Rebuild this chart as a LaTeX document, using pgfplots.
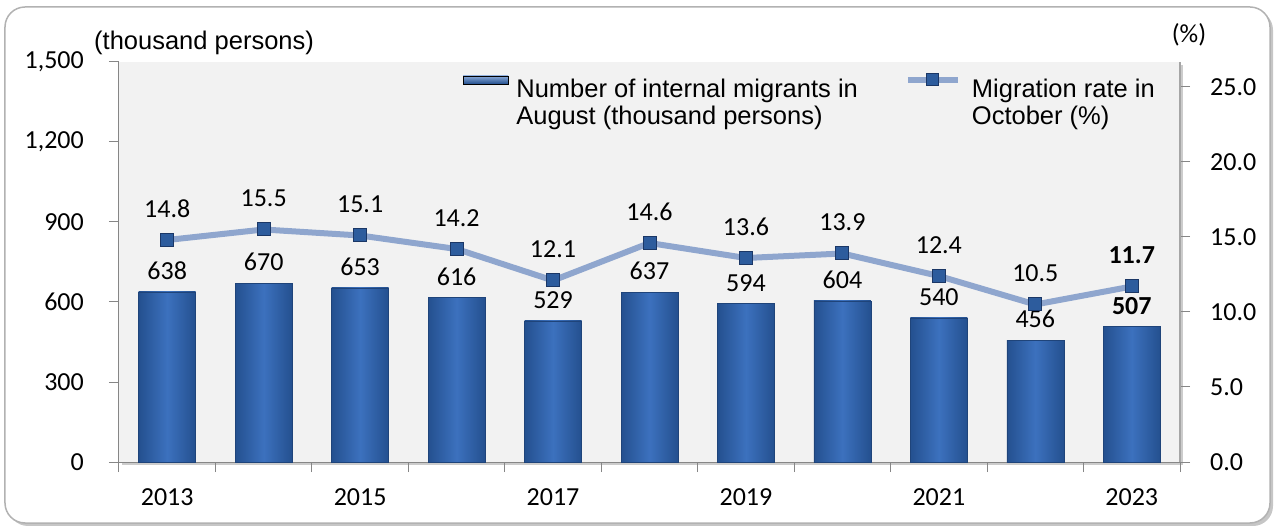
\documentclass[border=0pt]{standalone}
\usepackage{fontspec}
\setmainfont{Carlito}
\newfontfamily\arial{Liberation Sans}
\usepackage{pgfplots}
\pgfplotsset{compat=1.18}

\definecolor{bggray}{HTML}{F2F2F2}
\definecolor{axisgray}{HTML}{868686}
\definecolor{barside}{HTML}{24508F}
\definecolor{barmid}{HTML}{3C71BE}
\definecolor{ratecol}{HTML}{8FA6CE}
\definecolor{markfill}{HTML}{2D5C9D}
\definecolor{markdraw}{HTML}{1B3766}

\newcommand\lab{\fontsize{26bp}{30bp}\selectfont}
\newcommand\leg{\arial\fontsize{25.5bp}{27bp}\selectfont}

\pgfplotsset{
  migbar/.style={draw=barside!85!black, line width=0.6bp,
    left color=barside, right color=barside, middle color=barmid},
}

\begin{document}
\begin{tikzpicture}
% outer frame
\fill[gray!45, rounded corners=20bp] (-111bp,-64bp) rectangle (1154bp,452bp);
\filldraw[fill=white, draw=gray!60, line width=1.5bp, rounded corners=20bp]
  (-114bp,-61bp) rectangle (1151bp,455bp);
% shadow of plot area
\fill[gray!40] (3bp,-3bp) rectangle (1064bp,397bp);

\begin{axis}[
  at={(0,0)}, anchor=south west,
  scale only axis, width=1061bp, height=400bp,
  xmin=-0.5, xmax=10.5, ymin=0, ymax=1500,
  axis background/.style={fill=bggray},
  axis x line*=bottom, axis y line*=left,
  axis line style={draw=axisgray, line width=1bp},
  tick align=outside, major tick length=10bp,
  tick style={draw=axisgray, line width=1bp},
  ytick={0,300,...,1500},
  xtick={-0.5,0.5,...,10.5}, xticklabels={},
  extra x ticks={0,2,4,6,8,10},
  extra x tick labels={2013,2015,2017,2019,2021,2023},
  extra x tick style={major tick length=0pt,
    xticklabel style={yshift=-26bp}},
  tick label style={font=\lab, inner sep=0pt},
  yticklabel style={xshift=-25bp},
  /pgf/number format/assume math mode=true,
  ybar, bar width=57bp, bar shift=0pt,
  nodes near coords, point meta=explicit symbolic,
  nodes near coords style={font=\lab, anchor=south, inner sep=0pt, yshift=12bp, text=black},
]
% one plot per bar, so that each bar gets its own shading
\addplot[migbar] coordinates {(0,638) [638]};
\addplot[migbar] coordinates {(1,670) [670]};
\addplot[migbar] coordinates {(2,653) [653]};
\addplot[migbar] coordinates {(3,616) [616]};
\addplot[migbar] coordinates {(4,529) [529]};
\addplot[migbar] coordinates {(5,637) [637]};
\addplot[migbar] coordinates {(6,594) [594]};
\addplot[migbar] coordinates {(7,604) [604]};
\addplot[migbar] coordinates {(8,540) [540]};
\addplot[migbar] coordinates {(9,456) [456]};
\addplot[migbar] coordinates {(10,507) [\textbf{507}]};
\end{axis}

\begin{axis}[
  at={(0,0)}, anchor=south west,
  scale only axis, width=1061bp, height=400bp,
  xmin=-0.5, xmax=10.5, ymin=0, ymax=26.6667,
  axis y line*=right, axis x line=none,
  axis line style={draw=gray!70, line width=1.5bp},
  tick align=outside, major tick length=10bp,
  tick style={draw=axisgray, line width=1bp},
  ytick={0,5,...,25},
  tick label style={font=\lab, inner sep=0pt},
  yticklabel style={xshift=20bp, /pgf/number format/fixed,
    /pgf/number format/fixed zerofill, /pgf/number format/precision=1},
  /pgf/number format/assume math mode=true,
  legend columns=2,
  legend style={draw=none, fill=none, inner sep=0pt,
    at={(0.324,0.972)}, anchor=north west,
    nodes={inner sep=0pt, font=\leg},
    /tikz/column 1/.style={column sep=8bp},
    /tikz/column 2/.style={column sep=47bp},
    /tikz/column 3/.style={column sep=11bp}},
  legend cell align=left,
  nodes near coords, point meta=explicit symbolic,
  nodes near coords style={font=\lab, anchor=south, inner sep=0pt, yshift=22bp, text=black},
]
\addlegendimage{legend image code/.code={
  \fill[top color=barmid!60!white, bottom color=barside]
    (0bp,5bp) rectangle (45bp,13bp);}}
\addlegendentry{\begin{tabular}[t]{@{}l@{}}Number of internal migrants in\\August (thousand persons)\end{tabular}}
\addplot[color=ratecol, line width=6bp, mark=square*, mark size=6.5bp,
  mark options={fill=markfill, draw=markdraw, line width=1bp},
  legend image code/.code={
    \draw[ratecol, line width=6bp] (0bp,9bp) -- (50bp,9bp);
    \filldraw[fill=markfill, draw=markdraw, line width=1bp] (19bp,3bp) rectangle (31bp,15bp);}]
  coordinates {
  (0,14.8) [14.8] (1,15.5) [15.5] (2,15.1) [15.1] (3,14.2) [14.2] (4,12.1) [12.1]
  (5,14.6) [14.6] (6,13.6) [13.6] (7,13.9) [13.9] (8,12.4) [12.4] (9,10.5) [10.5]
  (10,11.7) [\textbf{11.7}]
  };
\addlegendentry{\begin{tabular}[t]{@{}l@{}}Migration rate in\\October (\%)\end{tabular}}
\end{axis}

\node[anchor=west, inner sep=0pt, font=\leg] at (-25bp,419bp) {(thousand persons)};
\node[inner sep=0pt, font=\lab] at (1070bp,427bp) {(\%)};

\pgfresetboundingbox
\path (-119bp,-64bp) rectangle (1156bp,462bp);
\end{tikzpicture}
\end{document}
